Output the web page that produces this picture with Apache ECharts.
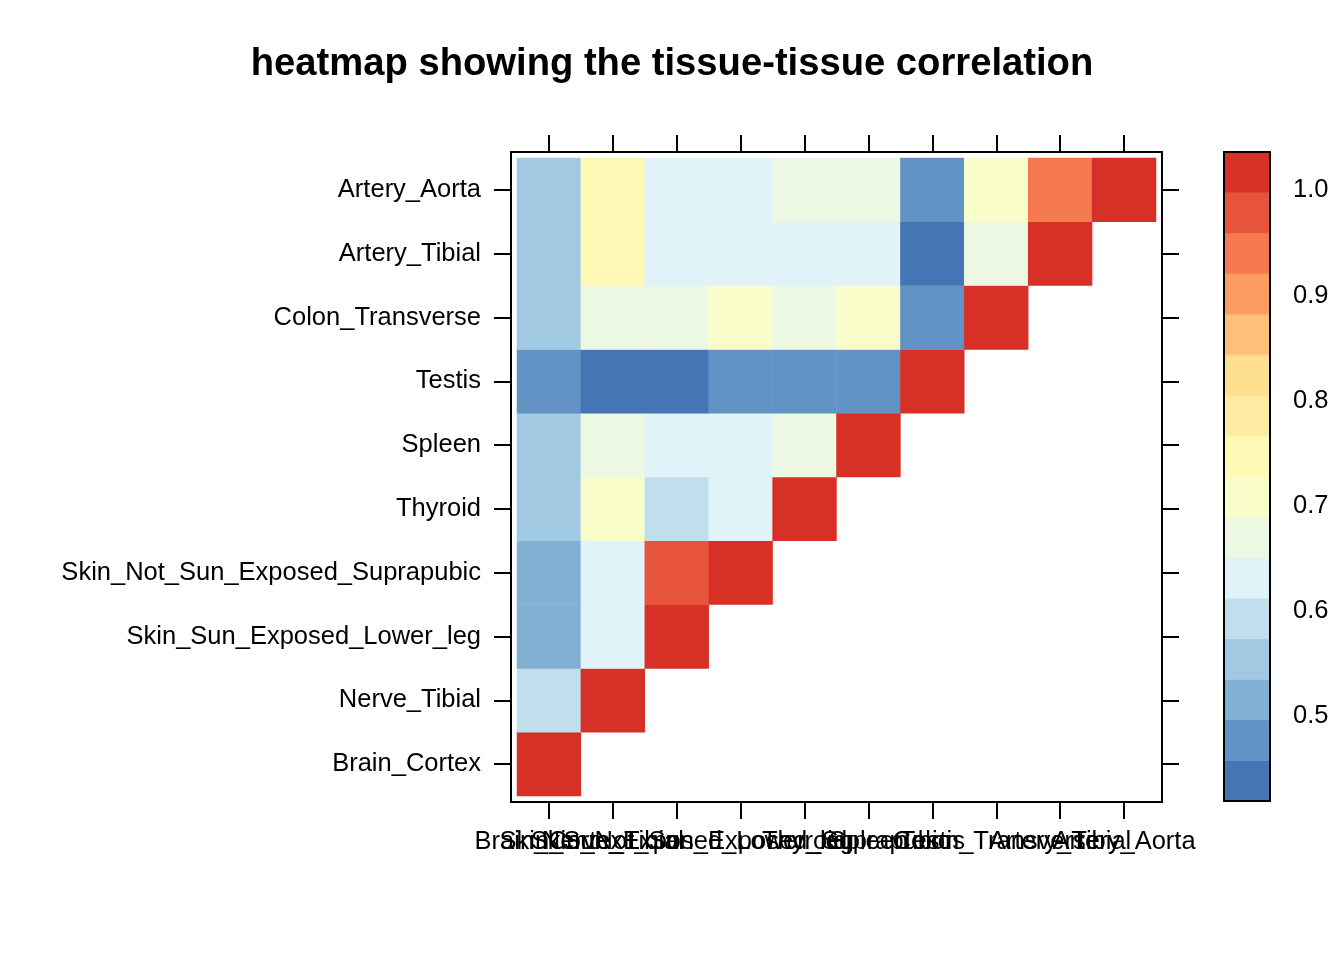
<!DOCTYPE html>
<html><head><meta charset="utf-8">
<script src="https://cdn.jsdelivr.net/npm/echarts@6/dist/echarts.min.js"></script>
<style>html,body{margin:0;padding:0;background:#fff}#c{width:1344px;height:960px}</style>
</head><body><div id="c"></div>
<script>
// categories (bottom-to-top on y, left-to-right on x)
const tissues = ['Brain_Cortex','Nerve_Tibial','Skin_Sun_Exposed_Lower_leg','Skin_Not_Sun_Exposed_Suprapubic','Thyroid','Spleen','Testis','Colon_Transverse','Artery_Tibial','Artery_Aorta'];

// correlation values per row (row tissue vs x tissue 0..row)
const row_Brain_Cortex   = [1.00];
const row_Nerve_Tibial   = [0.593, 1.00];
const row_Skin_Sun       = [0.515, 0.632, 1.00];
const row_Skin_Not_Sun   = [0.515, 0.632, 0.980, 1.00];
const row_Thyroid        = [0.554, 0.709, 0.593, 0.632, 1.00];
const row_Spleen         = [0.554, 0.670, 0.632, 0.632, 0.670, 1.00];
const row_Testis         = [0.477, 0.455, 0.455, 0.477, 0.477, 0.477, 1.00];
const row_Colon          = [0.554, 0.670, 0.670, 0.709, 0.670, 0.709, 0.477, 1.00];
const row_Artery_Tibial  = [0.554, 0.748, 0.632, 0.632, 0.632, 0.632, 0.455, 0.670, 1.00];
const row_Artery_Aorta   = [0.554, 0.748, 0.632, 0.632, 0.670, 0.670, 0.477, 0.709, 0.941, 1.00];
const rows = [row_Brain_Cortex, row_Nerve_Tibial, row_Skin_Sun, row_Skin_Not_Sun, row_Thyroid, row_Spleen, row_Testis, row_Colon, row_Artery_Tibial, row_Artery_Aorta];

// colour key
const breaks = [0.419, 0.4576, 0.4962, 0.5348, 0.5734, 0.612, 0.6506, 0.6892, 0.7278, 0.7664, 0.805, 0.8436, 0.8822, 0.9208, 0.9594, 0.998, 1.0366];
const palette = ['#4575B4','#6393C4','#82B0D3','#A1C9E1','#C0DEEC','#E0F3F8','#ECF8E1','#F9FDCA','#FFF9B6','#FEECA3','#FEE090','#FDBF7A','#FC9E64','#F57A4F','#E6553B','#D73027'];
const keyTicks = [0.5, 0.6, 0.7, 0.8, 0.9, 1.0];

const cells = [];
rows.forEach((r, y) => r.forEach((v, x) => cells.push([x, y, v])));
const pieces = palette.map((c, i) => ({gte: breaks[i], lt: breaks[i + 1], color: c}));
const keyData = palette.map((c, i) => [breaks[i], breaks[i + 1], i]);

const FONT = 'Liberation Sans';
const tickLine = {color: '#000', width: 2};
const labelStyle = {color: '#000', fontFamily: FONT, fontSize: 25.5};

const chart = echarts.init(document.getElementById('c'), null, {renderer: 'canvas'});
chart.setOption({
  animation: false,
  backgroundColor: '#fff',
  title: {
    text: 'heatmap showing the tissue-tissue correlation',
    left: 'center', top: 40,
    textStyle: {fontFamily: FONT, fontSize: 38.2, fontWeight: 'bold', color: '#000'}
  },
  grid: [
    {left: 517, top: 158, width: 639, height: 638},
    {left: 511, top: 152, width: 651, height: 650, show: true, borderColor: '#000', borderWidth: 2, backgroundColor: 'transparent'},
    {left: 1224, top: 152, width: 46, height: 649, show: true, borderColor: '#000', borderWidth: 2, backgroundColor: 'transparent', z: 5}
  ],
  xAxis: [
    {type: 'category', gridIndex: 0, data: tissues, position: 'bottom', offset: 6,
     axisLine: {show: false}, splitLine: {show: false},
     axisTick: {show: true, alignWithLabel: true, interval: 0, length: 17, lineStyle: tickLine},
     axisLabel: Object.assign({interval: 0, hideOverlap: false, margin: 27}, labelStyle)},
    {type: 'category', gridIndex: 0, data: tissues, position: 'top', offset: 6,
     axisLine: {show: false}, splitLine: {show: false},
     axisTick: {show: true, alignWithLabel: true, interval: 0, length: 17, lineStyle: tickLine},
     axisLabel: {show: false}},
    {type: 'value', gridIndex: 1, show: false},
    {type: 'value', gridIndex: 2, min: 0, max: 1, show: false}
  ],
  yAxis: [
    {type: 'category', gridIndex: 0, data: tissues, position: 'left', offset: 6,
     axisLine: {show: false}, splitLine: {show: false},
     axisTick: {show: true, alignWithLabel: true, interval: 0, length: 17, lineStyle: tickLine},
     axisLabel: Object.assign({interval: 0, margin: 30, padding: [6, 0, 0, 0]}, labelStyle)},
    {type: 'category', gridIndex: 0, data: tissues, position: 'right', offset: 6,
     axisLine: {show: false}, splitLine: {show: false},
     axisTick: {show: true, alignWithLabel: true, interval: 0, length: 17, lineStyle: tickLine},
     axisLabel: {show: false}},
    {type: 'value', gridIndex: 1, show: false},
    {type: 'value', gridIndex: 2, min: breaks[0], max: breaks[breaks.length - 1], position: 'right',
     axisLine: {show: false}, splitLine: {show: false},
     axisTick: {show: true, length: 12, lineStyle: tickLine, customValues: keyTicks},
     axisLabel: Object.assign({customValues: keyTicks, margin: 23, padding: [6, 0, 0, 0], formatter: v => Number(v).toFixed(1)}, labelStyle)}
  ],
  visualMap: {type: 'piecewise', show: false, pieces: pieces, seriesIndex: 0, dimension: 2},
  series: [
    {type: 'heatmap', xAxisIndex: 0, yAxisIndex: 0, data: cells, itemStyle: {borderWidth: 0}, emphasis: {disabled: true}, silent: true},
    {type: 'custom', xAxisIndex: 3, yAxisIndex: 3, data: keyData, silent: true,
     renderItem: (params, api) => {
       const p0 = api.coord([0, api.value(0)]);
       const p1 = api.coord([1, api.value(1)]);
       const col = palette[api.value(2)];
       return {type: 'rect', shape: {x: p0[0], y: p1[1], width: p1[0] - p0[0], height: p0[1] - p1[1]},
               style: {fill: col, stroke: col, lineWidth: 0.5}};
     }}
  ]
});
</script></body></html>
